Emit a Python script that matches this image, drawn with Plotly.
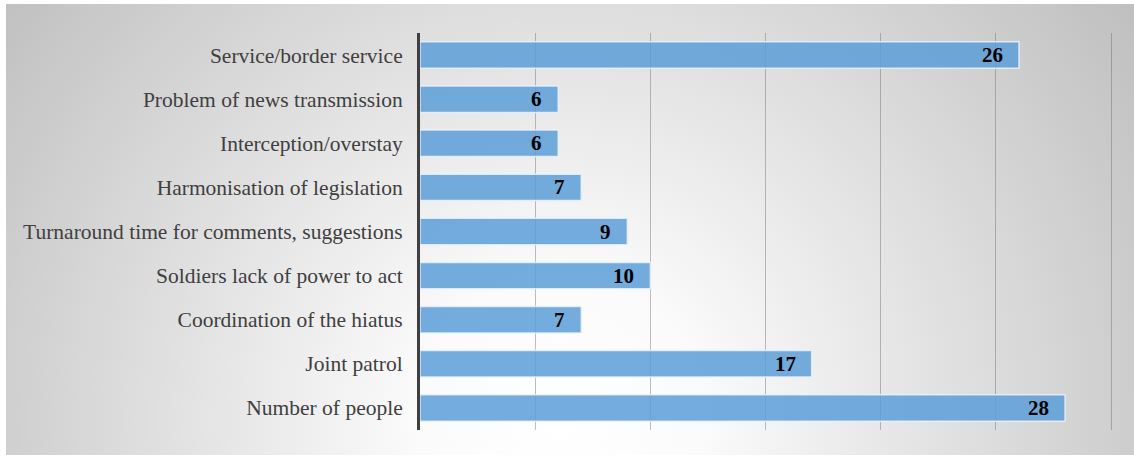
import base64
import plotly.graph_objects as go

# Survey tallies, listed top to bottom as drawn
categories = [
    "Service/border service",
    "Problem of news transmission",
    "Interception/overstay",
    "Harmonisation of legislation",
    "Turnaround time for comments, suggestions",
    "Soldiers lack of power to act",
    "Coordination of the hiatus",
    "Joint patrol",
    "Number of people",
]
counts = [26, 6, 6, 7, 9, 10, 7, 17, 28]
x_ticks = [0, 5, 10, 15, 20, 25, 30]

W, H = 1134, 457
M_L, M_R, M_T, M_B = 420, 21, 33, 27
PW, PH = W - M_L - M_R, H - M_T - M_B

SERIF = "Liberation Serif"

# Radial grey backdrop (white glow near the lower middle)
bw, bh = 1128, 451
svg = (
    f'<svg xmlns="http://www.w3.org/2000/svg" width="{bw}" height="{bh}" '
    f'viewBox="0 0 {bw} {bh}" preserveAspectRatio="none">'
    '<defs><radialGradient id="g" gradientUnits="userSpaceOnUse" '
    'cx="554" cy="416" r="700">'
    '<stop offset="0" stop-color="#ffffff"/>'
    '<stop offset="0.2" stop-color="#fbfbfb"/>'
    '<stop offset="1" stop-color="#c0c0c0"/>'
    '</radialGradient></defs>'
    f'<rect x="0" y="0" width="{bw}" height="{bh}" fill="url(#g)"/></svg>'
)
bg_src = "data:image/svg+xml;base64," + base64.b64encode(svg.encode()).decode()

bx0, by0, bx1, by1 = 6, 4, 1134, 455
bg_image = dict(
    source=bg_src, xref="paper", yref="paper",
    x=(bx0 - M_L) / PW, y=(H - M_B - by0) / PH,
    sizex=(bx1 - bx0) / PW, sizey=(by1 - by0) / PH,
    xanchor="left", yanchor="top", sizing="stretch", layer="below",
)

fig = go.Figure(
    go.Bar(
        y=categories,
        x=counts,
        orientation="h",
        width=0.6,
        marker=dict(
            color="rgba(92,157,215,0.85)",
            line=dict(color="rgba(235,242,250,0.85)", width=1.5),
        ),
        hoverinfo="x+y",
    )
)

annotations = [
    dict(
        x=v, y=c, xref="x", yref="y", text=f"<b>{v}</b>",
        showarrow=False, xanchor="right", yanchor="middle", xshift=-14,
        font=dict(family=SERIF, size=21, color="#000000"),
    )
    for c, v in zip(categories, counts)
]

fig.update_layout(
    width=W, height=H,
    margin=dict(l=M_L, r=M_R, t=M_T, b=M_B, pad=0),
    paper_bgcolor="#ffffff",
    plot_bgcolor="rgba(0,0,0,0)",
    images=[bg_image],
    annotations=annotations,
    showlegend=False,
    xaxis=dict(
        range=[0, 30.08], tickvals=x_ticks, showticklabels=False,
        showgrid=True, gridcolor="rgba(110,110,110,0.45)", gridwidth=1,
        zeroline=False, showline=False, ticks="", fixedrange=True,
    ),
    yaxis=dict(
        categoryorder="array", categoryarray=categories,
        autorange="reversed", showgrid=False, zeroline=False,
        showline=True, linecolor="#404040", linewidth=3,
        ticks="", ticklabelstandoff=10,
        tickfont=dict(family=SERIF, size=21.5, color="#404040"),
        fixedrange=True,
    ),
)

fig.write_html("out.html")
